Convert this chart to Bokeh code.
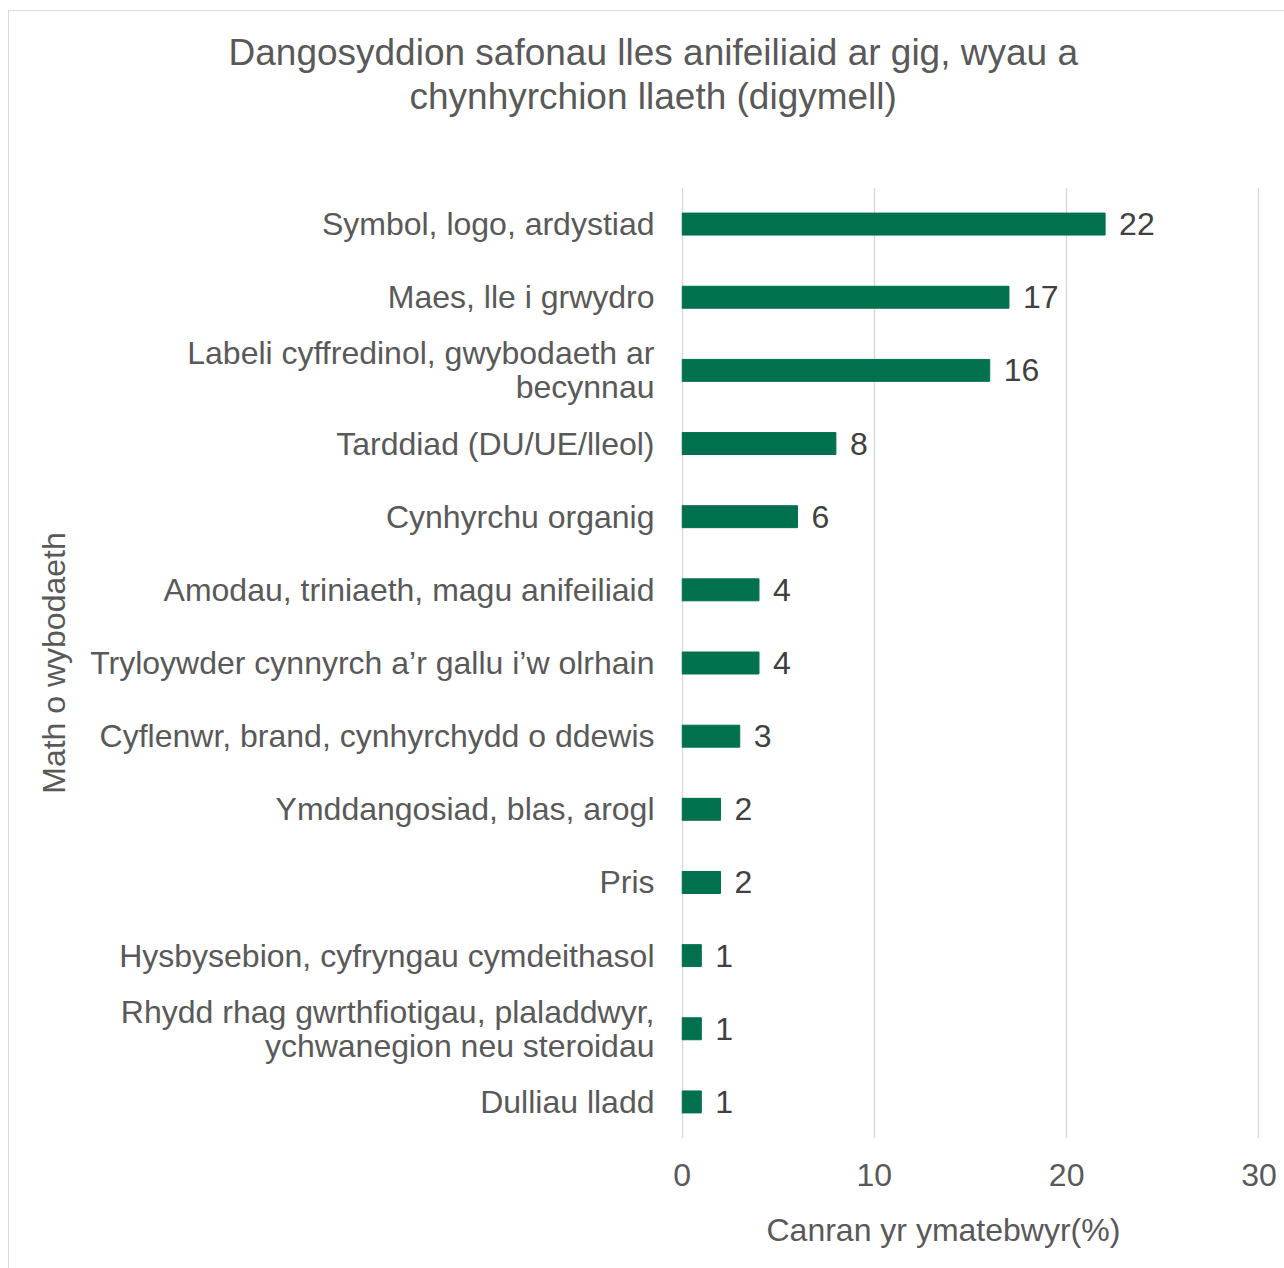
from bokeh.plotting import figure
from bokeh.models import ColumnDataSource, LabelSet, Title, FixedTicker, FactorRange, Range1d
from bokeh.core.properties import value
from bokeh.embed import file_html
from bokeh.resources import INLINE

title_lines = ["Dangosyddion safonau lles anifeiliaid ar gig, wyau a",
               "chynhyrchion llaeth (digymell)"]
categories = [
    "Symbol, logo, ardystiad",
    "Maes, lle i grwydro",
    "Labeli cyffredinol, gwybodaeth ar\nbecynnau",
    "Tarddiad (DU/UE/lleol)",
    "Cynhyrchu organig",
    "Amodau, triniaeth, magu anifeiliaid",
    "Tryloywder cynnyrch a\u2019r gallu i\u2019w olrhain",
    "Cyflenwr, brand, cynhyrchydd o ddewis",
    "Ymddangosiad, blas, arogl",
    "Pris",
    "Hysbysebion, cyfryngau cymdeithasol",
    "Rhydd rhag gwrthfiotigau, plaladdwyr,\nychwanegion neu steroidau",
    "Dulliau lladd",
]
values = [22, 17, 16, 8, 6, 4, 4, 3, 2, 2, 1, 1, 1]
x_ticks = [0, 10, 20, 30]
x_label = "Canran yr ymatebwyr(%)"
y_label = "Math o wybodaeth"

FONT = "Liberation Sans"
GREY = "#595959"
BAR = "#00704F"

src = ColumnDataSource(dict(cat=categories, val=values, txt=[str(v) for v in values]))

p = figure(width=1276, height=1258, output_backend="svg", toolbar_location=None,
           y_range=FactorRange(*list(reversed(categories))),
           x_range=Range1d(-0.03, 30.03),
           min_border_left=672, min_border_right=26, min_border_top=176, min_border_bottom=131)
p.title = None
p.outline_line_color = None
p.styles = {"border-left": "1px solid #d9d9d9", "border-top": "1px solid #d9d9d9",
            "box-sizing": "border-box", "margin-left": "8px", "margin-top": "10px"}

p.hbar(y="cat", right="val", left=0, height=0.3, source=src, fill_color=BAR, line_color=BAR)

labels = LabelSet(x="val", y="cat", text="txt", source=src, x_offset=14,
                  text_baseline="middle", text_align="left",
                  text_font=value(FONT), text_font_size=value("32px"), text_color="#404040")
p.add_layout(labels)

p.xgrid.ticker = FixedTicker(ticks=x_ticks)
p.xgrid.grid_line_color = "#d9d9d9"
p.xgrid.grid_line_width = 1.5
p.ygrid.grid_line_color = None

xa = p.xaxis[0]
xa.ticker = FixedTicker(ticks=x_ticks)
xa.axis_line_color = None
xa.major_tick_line_color = None
xa.minor_tick_line_color = None
xa.major_tick_out = 0
xa.major_tick_in = 0
xa.major_label_standoff = 25
xa.major_label_text_font = FONT
xa.major_label_text_font_size = "32px"
xa.major_label_text_color = GREY

ya = p.yaxis[0]
ya.axis_line_color = None
ya.major_tick_line_color = None
ya.minor_tick_line_color = None
ya.major_tick_out = 0
ya.major_tick_in = 0
ya.major_label_standoff = 27
ya.major_label_text_font = FONT
ya.major_label_text_font_size = "32px"
ya.major_label_text_line_height = 0.95
ya.major_label_text_align = "center"
ya.major_label_text_color = GREY
ya.axis_label = y_label
ya.axis_label_text_font = FONT
ya.axis_label_text_font_size = "32px"
ya.axis_label_text_font_style = "normal"
ya.axis_label_text_color = GREY
ya.axis_label_standoff = 15

# x-axis title placed below the axis (spacer first), left-offset as in the original
p.add_layout(Title(text=" ", text_font_size="2px", standoff=12), "below")
p.add_layout(Title(text=x_label, align="left", offset=85, standoff=10,
                   text_font=FONT, text_font_size="32px", text_font_style="normal",
                   text_color=GREY), "below")

# chart title: spacer nearest the frame, then the two lines
p.add_layout(Title(text=" ", text_font_size="2px", standoff=66), "above")
p.add_layout(Title(text=title_lines[1], align="left", offset=-272, standoff=1,
                   text_font=FONT, text_font_size="37px", text_font_style="normal",
                   text_color=GREY), "above")
p.add_layout(Title(text=title_lines[0], align="left", offset=-453, standoff=1,
                   text_font=FONT, text_font_size="37px", text_font_style="normal",
                   text_color=GREY), "above")

open("out.html", "w").write(file_html(p, INLINE))
